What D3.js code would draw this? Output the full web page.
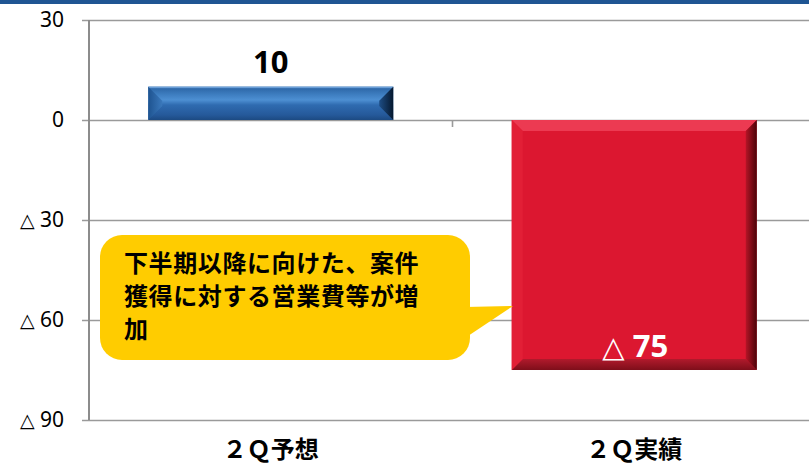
<!DOCTYPE html>
<html>
<head>
<meta charset="utf-8">
<script src="https://cdn.jsdelivr.net/npm/d3@7"></script>
<style>
  html, body { margin: 0; padding: 0; background: #fff; }
  svg { display: block; }
</style>
</head>
<body>
<div id="chart"></div>
<script>
// --- data ---
const categories = ["２Ｑ予想", "２Ｑ実績"];
const values = [10, -75];
const valueLabels = ["10", "△ 75"];
const yTicks = [30, 0, -30, -60, -90];
const calloutLines = ["下半期以降に向けた、案件", "獲得に対する営業費等が増", "加"];

const W = 809, H = 467;
const svg = d3.select("#chart").append("svg")
  .attr("width", W).attr("height", H);

// top band
svg.append("rect").attr("x", 0).attr("y", 0).attr("width", W).attr("height", 4)
  .attr("fill", "#1f5593");

const y = d3.scaleLinear().domain([-90, 30]).range([420, 20]);
const x = d3.scaleBand().domain(categories)
  .range([89, 816]).paddingInner(0.326).paddingOuter(0.163);

const fmt = d => d < 0 ? "△ " + Math.abs(d) : String(d);

// splits "△ n" so the triangle can be sized on its own
function triText(sel, triSize) {
  sel.each(function() {
    const t = d3.select(this);
    const s = t.text();
    if (s.startsWith("△")) {
      t.text(null);
      t.append("tspan").style("font-size", triSize).text("△");
      t.append("tspan").text(s.slice(1));
    }
  });
}

// y axis with gridlines
const yAxis = svg.append("g")
  .attr("transform", "translate(89,0)")
  .call(d3.axisLeft(y).tickValues(yTicks).tickSize(7).tickPadding(18).tickFormat(fmt));
yAxis.select(".domain").remove();
yAxis.selectAll(".tick line")
  .attr("x1", -7).attr("x2", W - 89 + 10)
  .attr("stroke", "#9a9a9a").attr("stroke-width", 1.6);
yAxis.selectAll(".tick text")
  .attr("fill", "#000")
  .style("font-family", "'Noto Sans', 'DejaVu Sans', sans-serif")
  .style("font-size", "21px")
  .call(triText, "19px");

svg.append("line")
  .attr("x1", 89).attr("x2", 89).attr("y1", y(30)).attr("y2", y(-90))
  .attr("stroke", "#8c8c8c").attr("stroke-width", 2);

// category boundary tick on zero line
svg.append("line")
  .attr("x1", x.range()[0] + x.step()).attr("x2", x.range()[0] + x.step())
  .attr("y1", y(0)).attr("y2", y(0) + 7)
  .attr("stroke", "#9a9a9a").attr("stroke-width", 1.6);

// category labels
const xAxis = svg.append("g")
  .attr("transform", `translate(0,${y(-90)})`)
  .call(d3.axisBottom(x).tickSize(0).tickPadding(38));
xAxis.select(".domain").remove();
xAxis.selectAll(".tick text")
  .attr("fill", "#000")
  .style("font-family", "'Noto Sans CJK JP', sans-serif")
  .style("font-size", "24px").style("font-weight", "bold")
  .attr("dy", 0);

// gradients
const defs = svg.append("defs");
function lin(id, stops, x2, y2) {
  const g = defs.append("linearGradient").attr("id", id)
    .attr("x1", 0).attr("y1", 0).attr("x2", x2).attr("y2", y2);
  stops.forEach(([o, c]) => g.append("stop").attr("offset", o).attr("stop-color", c));
}
lin("blueFace", [[0, "#2a62a2"], [0.25, "#3f7fc2"], [0.4, "#4d8fd2"], [0.55, "#2f6bb0"], [0.85, "#25599a"], [1, "#1c4a82"]], 0, 1);
lin("blueLeft", [[0, "#1e5390"], [1, "#3a78bb"]], 1, 0);
lin("blueRight", [[0, "#1d4d85"], [1, "#06182e"]], 1, 0);
lin("redRight", [[0, "#b51426"], [1, "#4a0409"]], 1, 0);
lin("redBottom", [[0, "#b11a2c"], [1, "#7e0e1a"]], 0, 1);

const styles = [
  { face: "url(#blueFace)", top: "#3a78bb", bottom: "#1c4a82", left: "url(#blueLeft)", right: "url(#blueRight)", b: 14 },
  { face: "#dc1730", top: "#ec3a52", bottom: "url(#redBottom)", left: "#e21f36", right: "url(#redRight)", b: 11 }
];

const bars = svg.append("g");
categories.forEach((c, i) => {
  const v = values[i];
  const x0 = x(c), x1 = x(c) + x.bandwidth();
  const y0 = y(Math.max(0, v)), y1 = y(Math.min(0, v));
  const s = styles[i];
  const b = Math.min(s.b, (y1 - y0) / 2);
  const g = bars.append("g");
  g.append("rect").attr("x", x0).attr("y", y0).attr("width", x1 - x0).attr("height", y1 - y0)
    .attr("fill", s.face);
  const poly = (pts, fill) => g.append("polygon")
    .attr("points", pts.map(p => p.join(",")).join(" ")).attr("fill", fill);
  if (i === 1) {
    poly([[x0, y0], [x1, y0], [x1 - b, y0 + b], [x0 + b, y0 + b]], s.top);
    poly([[x0, y1], [x1, y1], [x1 - b, y1 - b], [x0 + b, y1 - b]], s.bottom);
  } else {
    g.append("rect").attr("x", x0).attr("y", y0).attr("width", x1 - x0).attr("height", 1.5)
      .attr("fill", "#6a9fd8");
  }
  poly([[x0, y0], [x0 + b, y0 + b], [x0 + b, y1 - b], [x0, y1]], s.left);
  poly([[x1, y0], [x1 - b, y0 + b], [x1 - b, y1 - b], [x1, y1]], s.right);
});

// value labels
svg.append("text")
  .attr("x", x(categories[0]) + x.bandwidth() / 2).attr("y", y(values[0]) - 14)
  .attr("text-anchor", "middle")
  .style("font-family", "'Noto Sans', 'DejaVu Sans', sans-serif").style("font-weight", "bold").style("font-size", "31px")
  .attr("fill", "#000").text(valueLabels[0]);
svg.append("text")
  .attr("x", x(categories[1]) + x.bandwidth() / 2 + 1).attr("y", y(values[1]) - 13)
  .attr("text-anchor", "middle")
  .style("font-family", "'Noto Sans', 'DejaVu Sans', sans-serif").style("font-weight", "bold").style("font-size", "31px")
  .attr("fill", "#fff").text(valueLabels[1])
  .call(triText, "29px");

// callout
const call = svg.append("g");
call.append("rect").attr("x", 100).attr("y", 235).attr("width", 370).attr("height", 125)
  .attr("rx", 22).attr("ry", 22).attr("fill", "#ffcc00");
call.append("polygon").attr("points", "465,307 513,306 465,338").attr("fill", "#ffcc00");
call.selectAll("text.cl").data(calloutLines).join("text")
  .attr("class", "cl")
  .attr("x", 124).attr("y", (d, i) => 272 + i * 33)
  .style("font-family", "'Noto Sans CJK JP', sans-serif").style("font-weight", "bold")
  .style("font-size", "24px").style("letter-spacing", "0.6px")
  .attr("fill", "#000").text(d => d);
</script>
</body>
</html>
